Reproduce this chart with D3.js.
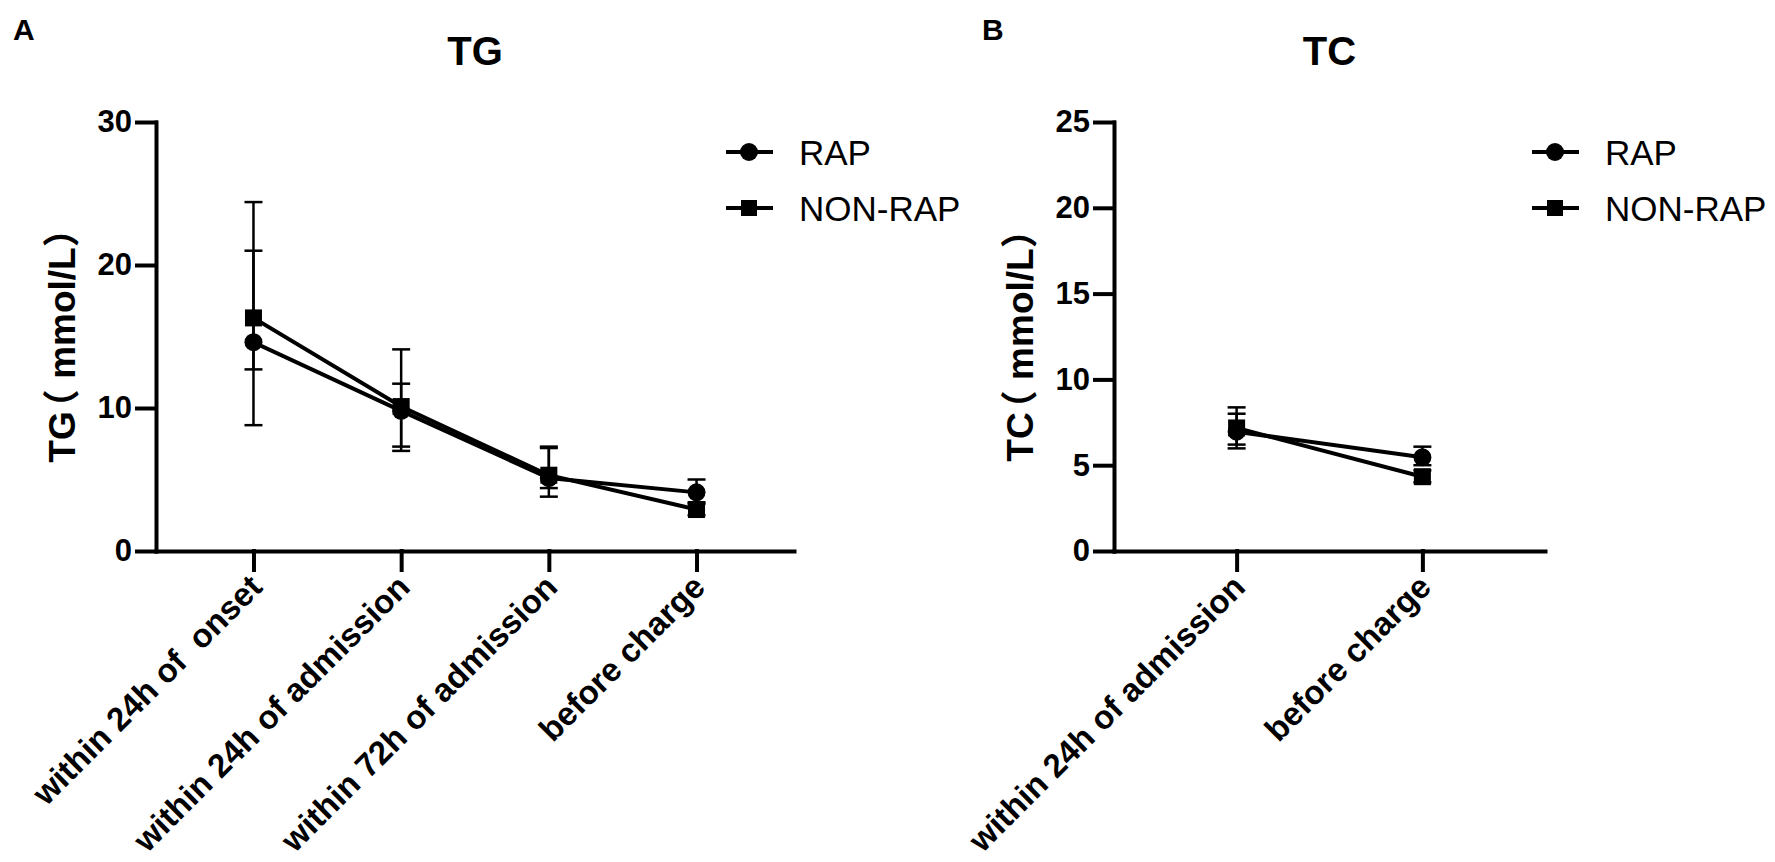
<!DOCTYPE html>
<html>
<head>
<meta charset="utf-8">
<script src="https://cdn.jsdelivr.net/npm/d3@7"></script>
<style>
  body { margin: 0; background: #fff; }
  text { font-family: "Liberation Sans", Arial, "Noto Sans CJK SC", sans-serif; fill: #000; }
</style>
</head>
<body>
<div id="chart"></div>
<script>
// ===============================
// Data
// ===============================
const seriesNames = ["RAP", "NON-RAP"];

// panel A : TG
const tgCategories = ["within 24h of  onset", "within 24h of admission", "within 72h of admission", "before charge"];
const tgRap = [14.6, 9.8, 5.1, 4.1];
const tgRapLow = [8.8, 7.0, 3.8, 3.4];
const tgRapHigh = [21.0, 11.7, 7.2, 5.0];
const tgNonRap = [16.3, 10.1, 5.3, 2.9];
const tgNonRapLow = [12.7, 7.3, 4.4, 2.5];
const tgNonRapHigh = [24.4, 14.1, 7.3, 3.3];
const tgTicks = [0, 10, 20, 30];

// panel B : TC
const tcCategories = ["within 24h of admission", "before charge"];
const tcRap = [6.95, 5.46];
const tcRapLow = [5.98, 5.0];
const tcRapHigh = [8.0, 6.08];
const tcNonRap = [7.17, 4.33];
const tcNonRapLow = [6.2, 4.0];
const tcNonRapHigh = [8.37, 4.7];
const tcTicks = [0, 5, 10, 15, 20, 25];

// ===============================
// Layout
// ===============================
const W = 1775, H = 862;
const plotTop = 122, plotBottom = 551;
const tickLen = 19;
const axisWidth = 4;

const svg = d3.select("#chart").append("svg")
    .attr("width", W)
    .attr("height", H);

svg.append("rect").attr("width", W).attr("height", H).attr("fill", "#fff");

function makeSeries(cats, vals, lows, highs) {
    return cats.map((c, i) => ({ cat: c, value: vals[i], low: lows[i], high: highs[i] }));
}

function drawPanel(cfg) {
    const g = svg.append("g");

    const x = d3.scalePoint()
        .domain(cfg.categories)
        .range([cfg.left, cfg.right])
        .padding(0.66);

    const y = d3.scaleLinear()
        .domain([0, d3.max(cfg.ticks)])
        .range([plotBottom, plotTop]);

    // y axis
    g.append("g")
        .attr("transform", `translate(${cfg.left},0)`)
        .call(d3.axisLeft(y).tickValues(cfg.ticks).tickSize(tickLen).tickSizeOuter(0).tickPadding(5))
        .call(a => a.selectAll("path, line").attr("stroke", "#000").attr("stroke-width", axisWidth).attr("stroke-linecap", "square"))
        .call(a => a.selectAll("text")
            .attr("font-size", 31)
            .attr("font-weight", 700)
            .attr("fill", "#000"));

    // x axis, rotated labels
    g.append("g")
        .attr("transform", `translate(0,${plotBottom})`)
        .call(d3.axisBottom(x).tickSize(tickLen).tickSizeOuter(0).tickPadding(0))
        .call(a => a.selectAll("path, line").attr("stroke", "#000").attr("stroke-width", axisWidth).attr("stroke-linecap", "square"))
        .call(a => a.selectAll("text")
            .attr("font-size", 33)
            .attr("font-weight", 700)
            .attr("fill", "#000")
            .attr("text-anchor", "end")
            .attr("dy", null)
            .attr("y", null)
            .attr("transform", "translate(10,38) rotate(-45)")
            .style("white-space", "pre"));

    // titles
    g.append("text")
        .attr("x", (cfg.left + cfg.right) / 2)
        .attr("y", 65)
        .attr("text-anchor", "middle")
        .attr("font-size", 40)
        .attr("font-weight", 700)
        .text(cfg.title);

    g.append("text")
        .attr("x", cfg.letterX)
        .attr("y", 40)
        .attr("font-size", 30)
        .attr("font-weight", 700)
        .text(cfg.letter);

    // y label: the full-width bracket sits tight against the name
    const yl = g.append("text")
        .attr("transform", `translate(${cfg.left - 94},${(plotTop + plotBottom) / 2}) rotate(-90)`)
        .attr("text-anchor", "middle")
        .attr("dy", "0.35em")
        .attr("font-size", 37)
        .attr("font-weight", 700);
    yl.append("tspan").text(cfg.title);
    yl.append("tspan").attr("dx", "-0.4em").text(cfg.yUnit);

    const line = d3.line().x(d => x(d.cat)).y(d => y(d.value));

    cfg.series.forEach((s, si) => {
        const sg = g.append("g");

        // error bars
        const eb = sg.selectAll(".err").data(s).enter().append("g");
        eb.append("line")
            .attr("x1", d => x(d.cat)).attr("x2", d => x(d.cat))
            .attr("y1", d => y(d.low)).attr("y2", d => y(d.high))
            .attr("stroke", "#000").attr("stroke-width", 2.5);
        eb.append("line")
            .attr("x1", d => x(d.cat) - 9).attr("x2", d => x(d.cat) + 9)
            .attr("y1", d => y(d.low)).attr("y2", d => y(d.low))
            .attr("stroke", "#000").attr("stroke-width", 2.5);
        eb.append("line")
            .attr("x1", d => x(d.cat) - 9).attr("x2", d => x(d.cat) + 9)
            .attr("y1", d => y(d.high)).attr("y2", d => y(d.high))
            .attr("stroke", "#000").attr("stroke-width", 2.5);

        sg.append("path")
            .datum(s)
            .attr("d", line)
            .attr("fill", "none")
            .attr("stroke", "#000")
            .attr("stroke-width", 4);

        if (si === 0) {
            sg.selectAll(".pt").data(s).enter().append("circle")
                .attr("cx", d => x(d.cat)).attr("cy", d => y(d.value))
                .attr("r", 9).attr("fill", "#000");
        } else {
            sg.selectAll(".pt").data(s).enter().append("rect")
                .attr("x", d => x(d.cat) - 8.5).attr("y", d => y(d.value) - 8.5)
                .attr("width", 17).attr("height", 17).attr("fill", "#000");
        }
    });

    // legend
    const lg = g.append("g").attr("transform", `translate(${cfg.legendX},0)`);
    seriesNames.forEach((name, i) => {
        const ly = 152 + i * 56;
        lg.append("line")
            .attr("x1", -23).attr("x2", 24)
            .attr("y1", ly).attr("y2", ly)
            .attr("stroke", "#000").attr("stroke-width", 4);
        if (i === 0) {
            lg.append("circle").attr("cx", 0).attr("cy", ly).attr("r", 9).attr("fill", "#000");
        } else {
            lg.append("rect").attr("x", -8).attr("y", ly - 8).attr("width", 16).attr("height", 16).attr("fill", "#000");
        }
        lg.append("text")
            .attr("x", 50)
            .attr("y", ly)
            .attr("dy", "0.36em")
            .attr("font-size", 35)
            .text(name);
    });
}

drawPanel({
    categories: tgCategories,
    ticks: tgTicks,
    left: 156, right: 794,
    title: "TG", letter: "A", letterX: 13,
    yUnit: "（ mmol/L）",
    legendX: 749,
    series: [
        makeSeries(tgCategories, tgRap, tgRapLow, tgRapHigh),
        makeSeries(tgCategories, tgNonRap, tgNonRapLow, tgNonRapHigh)
    ]
});

drawPanel({
    categories: tcCategories,
    ticks: tcTicks,
    left: 1114, right: 1545,
    title: "TC", letter: "B", letterX: 982,
    yUnit: "（ mmol/L）",
    legendX: 1555,
    series: [
        makeSeries(tcCategories, tcRap, tcRapLow, tcRapHigh),
        makeSeries(tcCategories, tcNonRap, tcNonRapLow, tcNonRapHigh)
    ]
});
</script>
</body>
</html>
